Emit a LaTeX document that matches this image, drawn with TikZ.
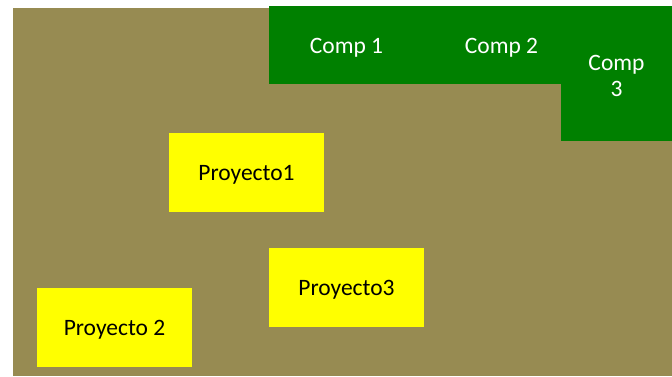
\documentclass[tikz,border=0pt]{standalone}
\usepackage{fontspec}
\setmainfont{Carlito}
\definecolor{olivebg}{RGB}{151,139,82}
\definecolor{compgreen}{RGB}{0,128,0}
\definecolor{projyellow}{RGB}{255,255,0}
\begin{document}
\begin{tikzpicture}[x=1pt,y=-1pt,
  boxfont/.style={font=\fontsize{23.5}{27}\selectfont},
  compbox/.style={fill=compgreen,draw=none,text=white,inner sep=0pt,align=center,boxfont},
  onelinetext/.style={text height=21.5pt,text depth=5pt},
  projbox/.style={fill=projyellow,draw=none,text=black,inner sep=0pt,minimum width=155pt,minimum height=78.5pt,boxfont,onelinetext}]
\useasboundingbox (0,0) rectangle (672,376);
\fill[olivebg] (13,8) rectangle (672,376);
\node[compbox,onelinetext,minimum width=155pt,minimum height=78pt] (c1) at (346.5,45) {Comp 1};
\node[compbox,onelinetext,minimum width=155pt,minimum height=78pt] (c2) at (501.5,45) {Comp 2};
\node[compbox,minimum width=111pt,minimum height=135pt] (c3) at (616.5,73.5) {};
\node[text=white,align=center,inner sep=0pt,font=\fontsize{23.5}{26.5}\selectfont] (c3text) at ([yshift=-2.5pt]c3.center) {Comp\\3};
\node[projbox] (p1) at (246.5,172.3) {Proyecto1};
\node[projbox] (p3) at (346.5,287.3) {Proyecto3};
\node[projbox] (p2) at (114.5,327.3) {Proyecto 2};
\end{tikzpicture}
\end{document}
